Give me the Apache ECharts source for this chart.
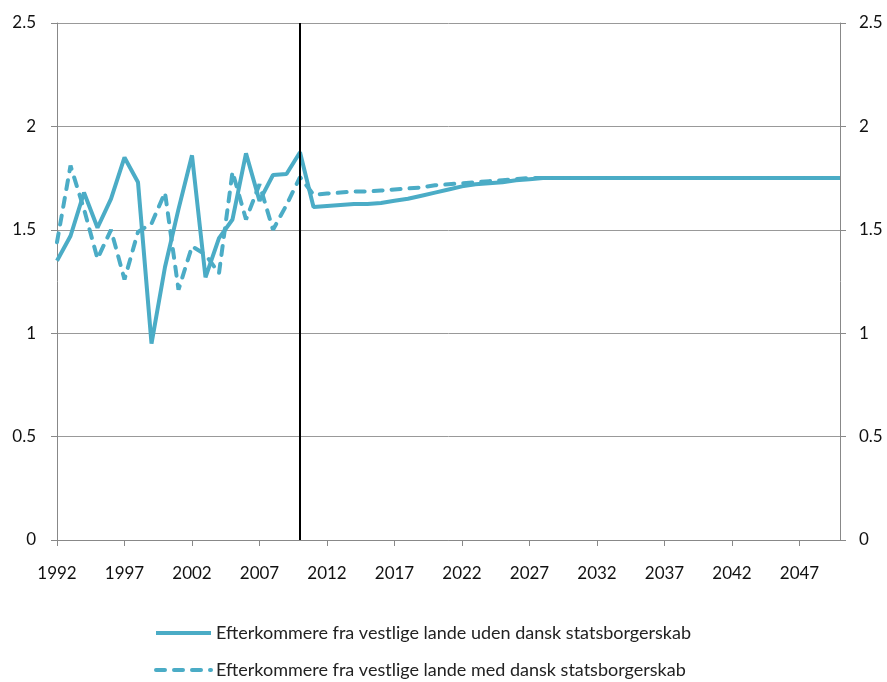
<!DOCTYPE html>
<html>
<head>
<meta charset="utf-8">
<script src="https://cdn.jsdelivr.net/npm/echarts@6/dist/echarts.min.js"></script>
<style>
  html, body { margin: 0; padding: 0; background: #fff; }
  #chart { width: 887px; height: 682px; }
</style>
</head>
<body>
<div id="chart"></div>
<script>
const years = []
for (let y = 1992; y <= 2050; y++) years.push(String(y))

// Efterkommere fra vestlige lande uden dansk statsborgerskab
const udenValues = [
  1.35, 1.47, 1.68, 1.51, 1.65, 1.85, 1.73, 0.95, 1.32, 1.6,
  1.86, 1.27, 1.46, 1.55, 1.87, 1.64, 1.765, 1.77, 1.875, 1.61,
  1.615, 1.62, 1.625, 1.625, 1.63, 1.64, 1.65, 1.665, 1.68, 1.695,
  1.71, 1.72, 1.725, 1.73, 1.74, 1.745, 1.75, 1.75, 1.75, 1.75,
  1.75, 1.75, 1.75, 1.75, 1.75, 1.75, 1.75, 1.75, 1.75, 1.75,
  1.75, 1.75, 1.75, 1.75, 1.75, 1.75, 1.75, 1.75, 1.75
]

// Efterkommere fra vestlige lande med dansk statsborgerskab
const medValues = [
  1.44, 1.81, 1.6, 1.36, 1.5, 1.26, 1.49, 1.53, 1.68, 1.21,
  1.42, 1.38, 1.29, 1.78, 1.55, 1.72, 1.5, 1.62, 1.755, 1.67,
  1.675, 1.68, 1.685, 1.685, 1.69, 1.695, 1.7, 1.705, 1.715, 1.72,
  1.725, 1.73, 1.735, 1.74, 1.745, 1.75, 1.75, 1.75, 1.75, 1.75,
  1.75, 1.75, 1.75, 1.75, 1.75, 1.75, 1.75, 1.75, 1.75, 1.75,
  1.75, 1.75, 1.75, 1.75, 1.75, 1.75, 1.75, 1.75, 1.75
]

const seriesNames = [
  'Efterkommere fra vestlige lande uden dansk statsborgerskab',
  'Efterkommere fra vestlige lande med dansk statsborgerskab'
]
const dividerYear = '2010'

const lineColor = '#4bacc6'
const fontFamily = 'Lato, "Open Sans", sans-serif'

const chart = echarts.init(document.getElementById('chart'))

const yAxisBase = {
  type: 'value',
  min: 0,
  max: 2.5,
  interval: 0.5,
  axisLine: { show: true, lineStyle: { color: '#888', width: 1 } },
  axisTick: { show: true, length: 6, lineStyle: { color: '#888' } },
  axisLabel: { color: '#111', fontSize: 17, fontFamily: fontFamily },
  splitLine: { show: true, lineStyle: { color: '#999', width: 1 } }
}

// one legend per row so they stack like the original
const legendBase = {
  left: 154,
  padding: 0,
  itemWidth: 55,
  itemHeight: 14,
  itemStyle: { opacity: 0 },
  lineStyle: { width: 4 },
  textStyle: { color: '#222', fontSize: 18, fontFamily: fontFamily }
}

chart.setOption({
  animation: false,
  backgroundColor: '#fff',
  grid: { left: 57, right: 47, top: 23, bottom: 142, containLabel: false },
  legend: [
    Object.assign({}, legendBase, { top: 624, data: [seriesNames[0]] }),
    Object.assign({}, legendBase, { top: 661, data: [seriesNames[1]] })
  ],
  xAxis: {
    type: 'category',
    data: years,
    boundaryGap: false,
    axisLine: { lineStyle: { color: '#888', width: 1 } },
    axisTick: { show: true, interval: 4, length: 6, lineStyle: { color: '#888' } },
    axisLabel: { interval: 4, color: '#111', fontSize: 17, fontFamily: fontFamily, margin: 25 },
    splitLine: { show: false }
  },
  yAxis: [
    Object.assign({}, yAxisBase, {
      position: 'left',
      axisLabel: Object.assign({}, yAxisBase.axisLabel, { margin: 21 })
    }),
    Object.assign({}, yAxisBase, {
      position: 'right',
      splitLine: { show: false },
      axisLabel: Object.assign({}, yAxisBase.axisLabel, { margin: 19 })
    })
  ],
  series: [
    {
      name: seriesNames[0],
      type: 'line',
      data: udenValues,
      symbol: 'none',
      lineStyle: { color: lineColor, width: 4 },
      itemStyle: { color: lineColor },
      markLine: {
        silent: true,
        symbol: 'none',
        label: { show: false },
        lineStyle: { color: '#000', width: 2, type: 'solid' },
        data: [{ xAxis: dividerYear }]
      }
    },
    {
      name: seriesNames[1],
      type: 'line',
      data: medValues,
      symbol: 'none',
      lineStyle: { color: lineColor, width: 4, type: [9, 9], cap: 'round' },
      itemStyle: { color: lineColor }
    }
  ]
})
</script>
</body>
</html>
